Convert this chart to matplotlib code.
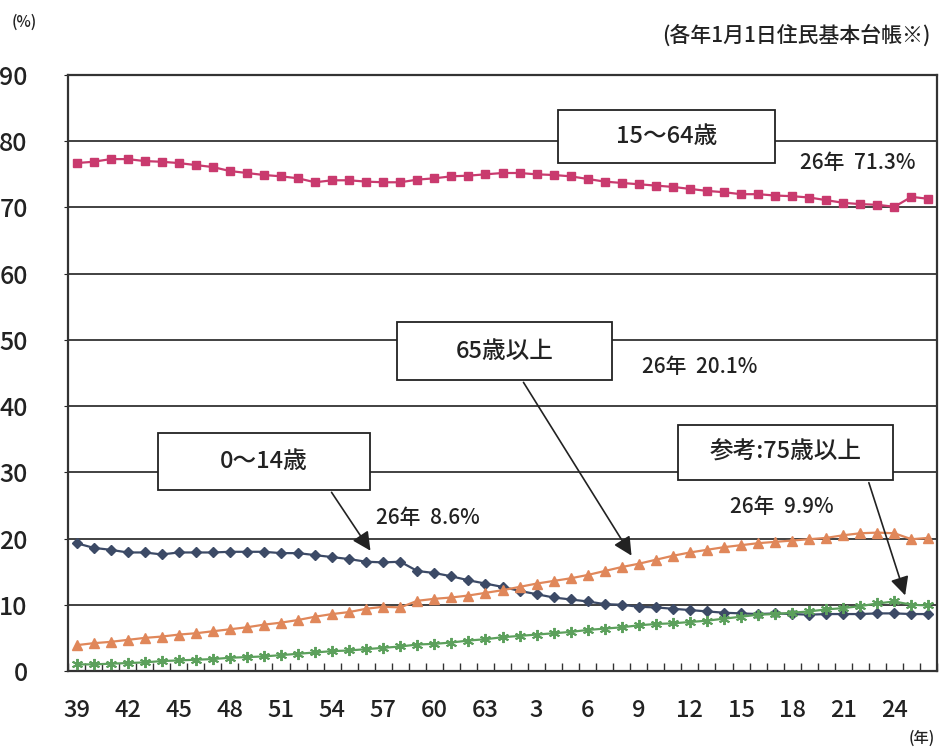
import matplotlib.pyplot as plt
from matplotlib.patches import Rectangle, FancyArrowPatch

plt.rcParams['font.family'] = ['Noto Sans CJK JP', 'DejaVu Sans']
plt.rcParams['font.weight'] = 'medium'

# 昭和39年～平成26年 (51 points)
years = ['39', '40', '41', '42', '43', '44', '45', '46', '47', '48', '49', '50',
         '51', '52', '53', '54', '55', '56', '57', '58', '59', '60', '61', '62',
         '63', '元', '2', '3', '4', '5', '6', '7', '8', '9', '10', '11', '12',
         '13', '14', '15', '16', '17', '18', '19', '20', '21', '22', '23', '24',
         '25', '26']
tick_labels = ['39', '42', '45', '48', '51', '54', '57', '60', '63',
               '3', '6', '9', '12', '15', '18', '21', '24']

age15_64 = [76.7, 76.9, 77.3, 77.3, 77.0, 76.9, 76.7, 76.4, 76.1, 75.5,
            75.2, 74.9, 74.7, 74.4, 73.8, 74.1, 74.1, 73.9, 73.8, 73.8,
            74.2, 74.4, 74.7, 74.8, 75.0, 75.2, 75.2, 75.0, 74.9, 74.7,
            74.3, 73.9, 73.7, 73.5, 73.3, 73.1, 72.8, 72.5, 72.3, 72.0,
            72.0, 71.8, 71.7, 71.5, 71.1, 70.7, 70.5, 70.4, 70.1, 71.6, 71.3]
age0_14 = [19.3, 18.6, 18.3, 17.9, 17.9, 17.6, 17.9, 17.9, 17.9, 18.0,
           18.0, 18.0, 17.8, 17.8, 17.5, 17.2, 16.9, 16.5, 16.4, 16.5,
           15.1, 14.8, 14.3, 13.7, 13.2, 12.7, 12.1, 11.6, 11.1, 10.8,
           10.5, 10.1, 10.0, 9.7, 9.6, 9.4, 9.2, 9.0, 8.8, 8.7,
           8.6, 8.7, 8.6, 8.5, 8.6, 8.6, 8.6, 8.7, 8.7, 8.6, 8.6]
age65 = [3.9, 4.2, 4.4, 4.7, 5.0, 5.2, 5.5, 5.7, 6.0, 6.3,
         6.6, 7.0, 7.3, 7.7, 8.2, 8.6, 8.9, 9.4, 9.7, 9.6,
         10.6, 10.9, 11.1, 11.4, 11.8, 12.2, 12.7, 13.2, 13.6, 14.0,
         14.5, 15.1, 15.7, 16.2, 16.8, 17.4, 17.9, 18.3, 18.7, 19.0,
         19.3, 19.5, 19.7, 19.9, 20.1, 20.5, 20.8, 20.9, 20.8, 19.9, 20.1]
age75 = [1.0, 1.0, 1.1, 1.2, 1.3, 1.5, 1.6, 1.7, 1.8, 2.0,
         2.1, 2.2, 2.4, 2.6, 2.8, 3.0, 3.1, 3.3, 3.5, 3.7,
         4.0, 4.1, 4.3, 4.6, 4.8, 5.1, 5.3, 5.5, 5.7, 5.9,
         6.2, 6.4, 6.6, 6.9, 7.1, 7.2, 7.4, 7.6, 7.9, 8.2,
         8.5, 8.6, 8.8, 9.0, 9.3, 9.5, 9.8, 10.2, 10.5, 10.0, 9.9]

W, H = 944, 749
fig = plt.figure(figsize=(W / 100, H / 100), dpi=100)
ax = fig.add_axes([68 / W, 1 - 671 / H, 869 / W, 596 / H])

x = list(range(len(years)))
ax.plot(x, age15_64, color='#C93A6E', marker='s', ms=6, lw=1.6, zorder=3)
ax.plot(x, age0_14, color='#3C4A66', marker='D', ms=5.5, lw=1.6, zorder=3)
ax.plot(x, age65, color='#E0875A', marker='^', ms=7, lw=1.6, zorder=3)
ax.plot(x, age75, color='#5CA05C', marker=(6, 2, 0), ms=8, mew=1.4, lw=1.6, zorder=3)

ax.set_xlim(-0.5, len(years) - 0.5)
ax.set_ylim(0, 90)
ax.set_yticks(range(0, 91, 10))
ax.yaxis.grid(True, color='#333333', lw=1.3)
ax.set_axisbelow(True)

ax.set_xticks([years.index(t) for t in tick_labels])
ax.set_xticklabels(tick_labels)
ax.set_xticks([i - 0.5 for i in range(len(years) + 1)], minor=True)
ax.tick_params(axis='x', which='major', length=0, pad=20, labelsize=17, colors='#222222')
ax.tick_params(axis='x', which='minor', direction='in', length=6, width=1, color='#333333')
ax.tick_params(axis='y', length=3, pad=26, labelsize=18, colors='#222222')
for s in ax.spines.values():
    s.set_linewidth(1.6)
    s.set_color('#333333')


def fx(px):
    return px / W


def fy(py):
    return 1 - py / H


fig.text(fx(12), fy(22), '(%)', fontsize=11, va='center', ha='left', color='#222222')
fig.text(fx(930), fy(36), '(各年1月1日住民基本台帳※)', fontsize=15, va='center', ha='right',
         color='#222222')
fig.text(fx(935), fy(738), '(年)', fontsize=11, va='center', ha='right', color='#222222')

boxes = [
    ('15～64歳', 558, 110, 217, 53),
    ('65歳以上', 397, 322, 215, 58),
    ('0～14歳', 158, 433, 212, 57),
    ('参考:75歳以上', 678, 425, 215, 55),
]
for label, bx, by, bw, bh in boxes:
    fig.patches.append(Rectangle((fx(bx), fy(by + bh)), bw / W, bh / H,
                                 transform=fig.transFigure, facecolor='white',
                                 edgecolor='#222222', lw=1.3, zorder=5))
    fig.text(fx(bx + bw / 2), fy(by + bh / 2), label, fontsize=17, ha='center',
             va='center', color='#222222', zorder=6)

notes = [
    ('26年  71.3%', 858, 163),
    ('26年  20.1%', 700, 367),
    ('26年  8.6%', 428, 518),
    ('26年  9.9%', 782, 507),
]
for t, tx, ty in notes:
    fig.text(fx(tx), fy(ty), t, fontsize=15, ha='center', va='center', color='#222222',
             zorder=6)

arrows = [((330, 490), (372, 553)), ((522, 380), (633, 558)), ((868, 480), (906, 598))]
for (x0, y0), (x1, y1) in arrows:
    fig.patches.append(FancyArrowPatch((fx(x0), fy(y0)), (fx(x1), fy(y1)),
                                       transform=fig.transFigure, arrowstyle='-|>',
                                       mutation_scale=28, color='#222222', lw=1.2,
                                       zorder=7))

fig.savefig('out.png', dpi=100)
